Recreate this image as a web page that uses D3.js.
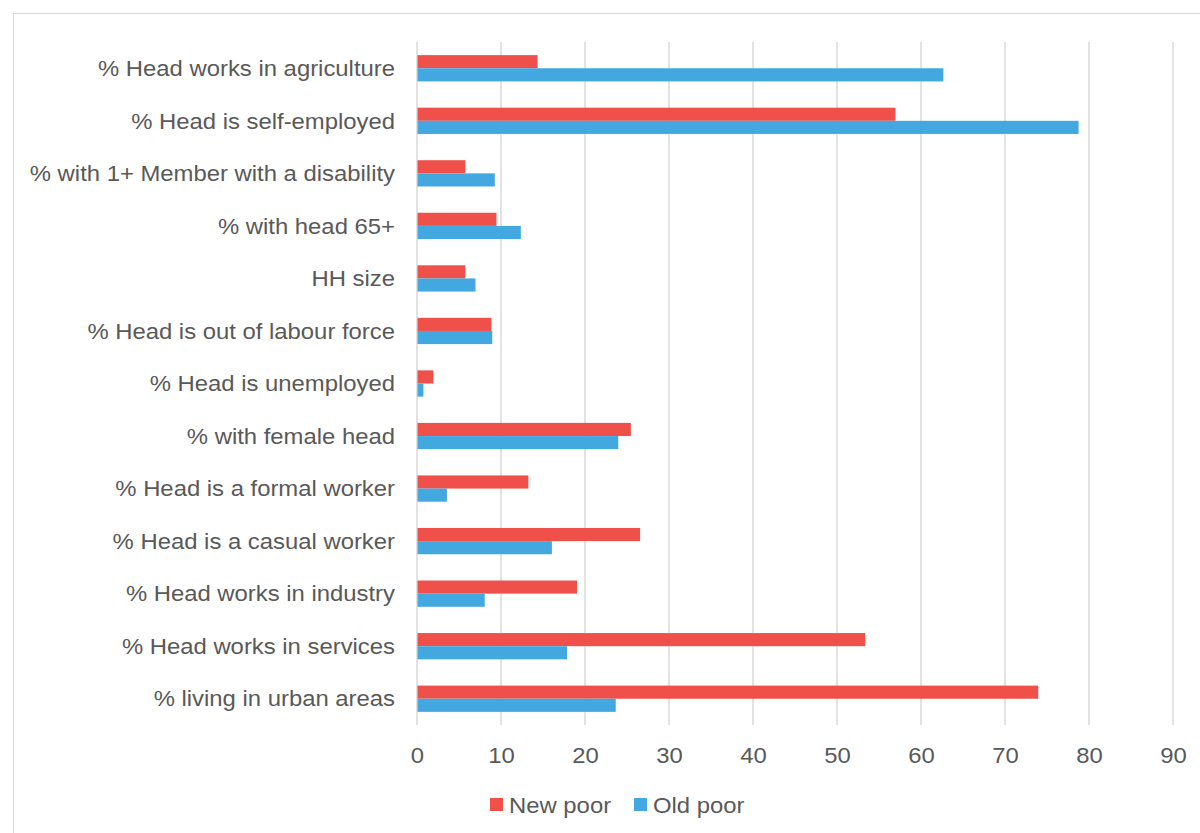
<!DOCTYPE html>
<html>
<head>
<meta charset="utf-8">
<script src="https://cdn.jsdelivr.net/npm/d3@7/dist/d3.min.js"></script>
<style>
  body { margin: 0; background: #fff; }
  svg { display: block; font-family: "Liberation Sans", Arial, sans-serif; }
</style>
</head>
<body>
<div id="chart"></div>
<script>
'use strict';

// categories top to bottom, as in the picture
const categories = [
    '% Head works in agriculture',
    '% Head is self-employed',
    '% with 1+ Member with a disability',
    '% with head 65+',
    'HH size',
    '% Head is out of labour force',
    '% Head is unemployed',
    '% with female head',
    '% Head is a formal worker',
    '% Head is a casual worker',
    '% Head works in industry',
    '% Head works in services',
    '% living in urban areas'
];

const newPoor = [14.3, 56.9, 5.7, 9.4, 5.7, 8.8, 1.9, 25.4, 13.2, 26.5, 19.0, 53.3, 73.9];
const oldPoor = [62.6, 78.7, 9.2, 12.3, 6.9, 8.9, 0.7, 23.9, 3.5, 16.0, 8.0, 17.8, 23.6];

const seriesNames = ['New poor', 'Old poor'];
const seriesColors = ['#EF5049', '#43A7E0'];
const xTicks = [0, 10, 20, 30, 40, 50, 60, 70, 80, 90];

const width = 1200, height = 833;
const margin = {top: 42, left: 417, right: 27, bottom: 108};
const fontSize = 22;
const stretch = 1.085; // text in the reference is drawn a bit wide

let svg = d3.select('#chart').append('svg')
    .attr('width', width)
    .attr('height', height);

// chart frame (cropped on right and bottom)
svg.append('rect')
    .attr('x', 13.5).attr('y', 13.5)
    .attr('width', 1200).attr('height', 900)
    .style('fill', 'none')
    .style('stroke', '#d9d9d9')
    .style('stroke-width', 1);

let x = d3.scaleLinear()
    .domain([0, 90])
    .range([margin.left, width - margin.right]);

let y = d3.scaleBand()
    .domain(categories)
    .range([margin.top, height - margin.bottom])
    .paddingInner(0.5)
    .paddingOuter(0.25);

let sub = d3.scaleBand()
    .domain(seriesNames)
    .range([0, y.bandwidth()]);

// gridlines
svg.append('g').selectAll('line')
    .data(xTicks)
    .enter().append('line')
    .attr('x1', d => x(d)).attr('x2', d => x(d))
    .attr('y1', margin.top).attr('y2', height - margin.bottom)
    .style('stroke', '#d9d9d9')
    .style('stroke-width', 1.5);

// bars
let rows = categories.map((c, i) => ({cat: c, values: [newPoor[i], oldPoor[i]]}));

let groups = svg.append('g').selectAll('.row')
    .data(rows)
    .enter().append('g')
    .attr('class', 'row')
    .attr('transform', d => 'translate(0,' + y(d.cat) + ')');

groups.selectAll('rect')
    .data(d => d.values.map((v, j) => ({name: seriesNames[j], value: v, color: seriesColors[j]})))
    .enter().append('rect')
    .attr('x', x(0) + 0.5)
    .attr('y', d => sub(d.name))
    .attr('width', d => x(d.value) - x(0))
    .attr('height', sub.bandwidth())
    .style('fill', d => d.color);

// category labels
svg.append('g').selectAll('text')
    .data(categories)
    .enter().append('text')
    .text(d => d)
    .attr('transform', d => 'translate(395,' + (y(d) + y.bandwidth() / 2) + ') scale(' + stretch + ',1)')
    .attr('dy', '0.35em')
    .style('text-anchor', 'end')
    .style('font-size', fontSize + 'px')
    .style('fill', '#595959');

// x axis labels
let xAxis = d3.axisBottom(x).tickValues(xTicks).tickSize(0).tickPadding(22);
let axisG = svg.append('g')
    .attr('transform', 'translate(0,' + (height - margin.bottom) + ')')
    .call(xAxis);
axisG.select('.domain').remove();
axisG.selectAll('text')
    .attr('transform', 'scale(' + stretch + ',1)')
    .style('font-size', fontSize + 'px')
    .style('font-family', '"Liberation Sans", Arial, sans-serif')
    .style('fill', '#595959');

// legend
let legendX = [490, 634];
let legend = svg.append('g').selectAll('.legend')
    .data(seriesNames)
    .enter().append('g')
    .attr('class', 'legend')
    .attr('transform', (d, i) => 'translate(' + legendX[i] + ',805)');

legend.append('rect')
    .attr('x', 0).attr('y', -7)
    .attr('width', 13).attr('height', 13)
    .style('fill', (d, i) => seriesColors[i]);

legend.append('text')
    .text(d => d)
    .attr('transform', 'translate(19,0) scale(' + stretch + ',1)')
    .attr('dy', '0.35em')
    .style('font-size', fontSize + 'px')
    .style('fill', '#595959');
</script>
</body>
</html>
